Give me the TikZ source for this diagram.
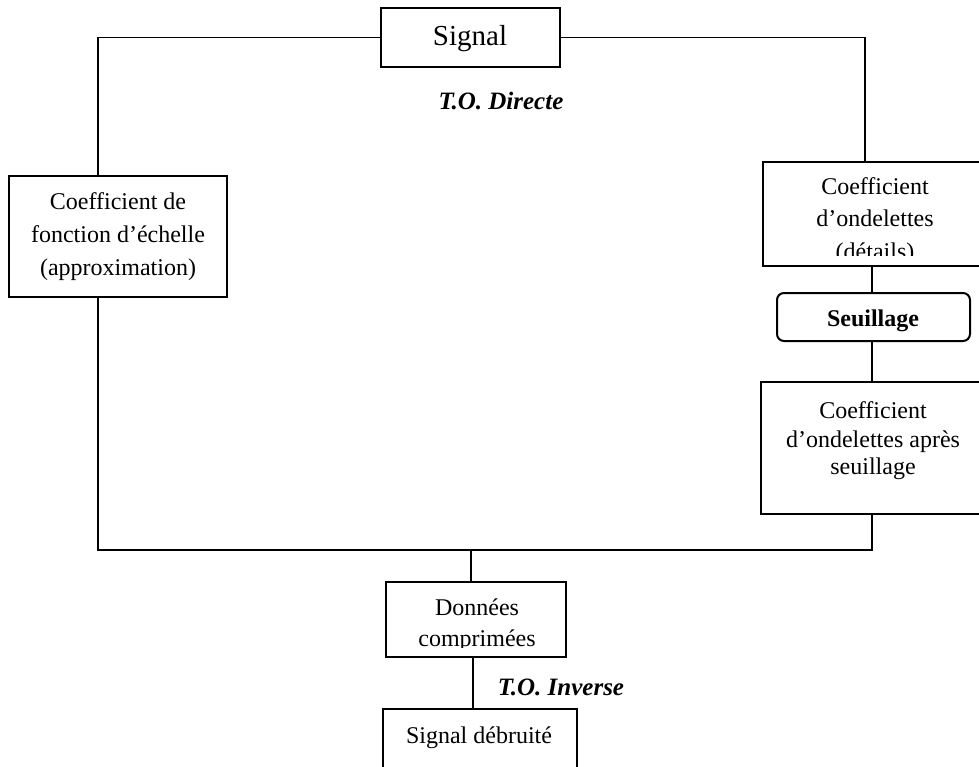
\documentclass[tikz,border=0pt]{standalone}
\usepackage{fontspec}
\setmainfont{Liberation Serif}
\begin{document}
\begin{tikzpicture}[x=1pt,y=-1pt,
  box/.style={draw, line width=2pt, inner sep=0pt, rectangle},
  conn/.style={line width=1.9pt},
  txt/.style={anchor=base, inner sep=0pt, font=\fontsize{24}{28}\selectfont},
  lab/.style={anchor=base, inner sep=0pt, font=\fontsize{25}{30}\selectfont\bfseries\itshape}]
\useasboundingbox (0,0) rectangle (979,767);
\clip (0,0) rectangle (979,767);
% boxes
\node[box, minimum width=179pt, minimum height=59pt] (sig) at (470.5,37.5) {};
\node[box, minimum width=218pt, minimum height=121pt] (left) at (118,236.5) {};
\node[box, minimum width=227pt, minimum height=104pt] (r1) at (876.5,214) {};
\node[box, rounded corners=7pt, minimum width=193pt, minimum height=48pt] (seu) at (873.5,317) {};
\node[box, minimum width=229pt, minimum height=132pt] (r2) at (875.5,448) {};
\node[box, minimum width=180pt, minimum height=75pt] (don) at (476,619.5) {};
\node[box, minimum width=194pt, minimum height=81pt] (deb) at (480,749.5) {};
% helper coordinates
\coordinate (lx) at (98,0);
\coordinate (rx) at (865,0);
\coordinate (cx) at (872,0);
\coordinate (bus) at (0,550);
\coordinate (dx) at (471,0);
\coordinate (ex) at (473,0);
% connectors
\draw[conn] (sig.west) -| (left.north -| lx);
\draw[conn] (sig.east) -| (r1.north -| rx);
\draw[conn] (r1.south -| cx) -- (seu.north -| cx);
\draw[conn] (seu.south -| cx) -- (r2.north -| cx);
\draw[conn] (left.south -| lx) -- (lx |- bus) -- (cx |- bus) -- (r2.south -| cx);
\draw[conn] (dx |- bus) -- (don.north -| dx);
\draw[conn] (don.south -| ex) -- (deb.north -| ex);
% texts
\node[anchor=base, inner sep=0pt, font=\fontsize{29}{34}\selectfont] (tsig) at (470,46) {Signal};
\node[lab] (tdir) at (501,110) {T.O. Directe};
\node[txt] (l1) at (118,210) {Coefficient de};
\node[txt] (l2) at (118,243) {fonction d’échelle};
\node[txt] (l3) at (118,275) {(approximation)};
\begin{scope}
\clip (763,162) rectangle (990,256);
\node[txt] (a1) at (875,195) {Coefficient};
\node[txt] (a2) at (875,227) {d’ondelettes};
\node[txt] (a3) at (875,259) {(détails)};
\end{scope}
\node[txt, font=\fontsize{24}{28}\selectfont\bfseries] (tseu) at (873,326) {Seuillage};
\node[txt] (b1) at (873,418) {Coefficient};
\node[txt] (b2) at (873,447) {d’ondelettes après};
\node[txt] (b3) at (873,474) {seuillage};
\node[txt] (c1) at (477,615) {Données};
\begin{scope}
\clip (386,582) rectangle (566,647);
\node[txt] (c2) at (477,646) {comprimées};
\end{scope}
\node[txt] (d1) at (479,743) {Signal débruité};
\node[lab] (tinv) at (561,695) {T.O. Inverse};
\end{tikzpicture}
\end{document}
